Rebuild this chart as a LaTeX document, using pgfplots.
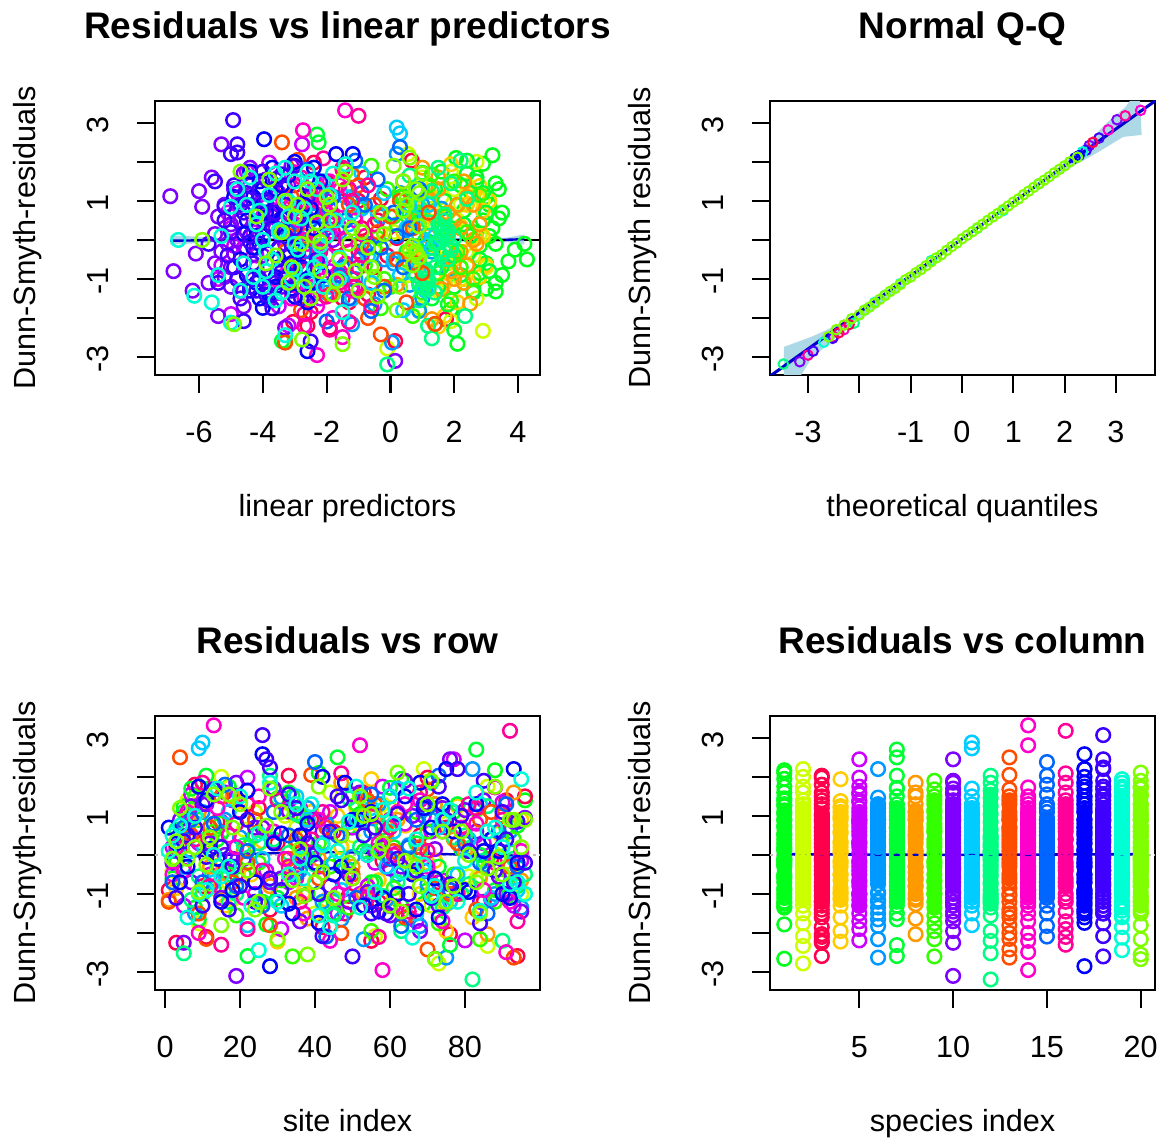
\documentclass[border=0pt]{standalone}
\usepackage{pgfplots}
\usepackage{pgfplotstable}
\usepackage{fontspec}
\setmainfont{Liberation Sans}
\pgfplotsset{compat=1.18}
\definecolor{c1}{HTML}{00FF19}\definecolor{c2}{HTML}{CCFF00}\definecolor{c3}{HTML}{FF004D}\definecolor{c4}{HTML}{FFCC00}
\definecolor{c5}{HTML}{CC00FF}\definecolor{c6}{HTML}{0099FF}\definecolor{c7}{HTML}{00FF33}\definecolor{c8}{HTML}{FF9900}
\definecolor{c9}{HTML}{33FF00}\definecolor{c10}{HTML}{8000FF}\definecolor{c11}{HTML}{00CCFF}\definecolor{c12}{HTML}{00FF80}
\definecolor{c13}{HTML}{FF4D00}\definecolor{c14}{HTML}{FF00CC}\definecolor{c15}{HTML}{0066FF}\definecolor{c16}{HTML}{FF0099}
\definecolor{c17}{HTML}{0000FF}\definecolor{c18}{HTML}{4000FF}\definecolor{c19}{HTML}{00FFD5}\definecolor{c20}{HTML}{80FF00}
\definecolor{ciband}{HTML}{ADD8E6}\definecolor{fitblue}{HTML}{0000CD}
\pgfplotstableread{
eta site r
3.2 88 2.17
2.06 41 2.1
2.9 63 1.95
1.6 17 1.75
3.3 30 1.45
2.5 5 1.25
3.4 72 1.3
1.2 52 1.05
3.1 24 0.9
2.3 94 0.75
2.9 58 0.5
0.9 11 0.4
3.2 35 0.3
1.8 79 0.15
4.2 47 -0.1
3.9 66 -0.25
1.5 3 -0.2
4.28 21 -0.5
3.7 84 -0.55
2.2 55 -0.7
2.8 13 -0.85
3.3 91 -1.1
1.4 38 -1.0
3.0 69 -1.25
2.6 8 -1.35
3.3 43 -1.32
1.9 27 -1.78
2.1 72 -2.66
2.7 33 1.6
3.0 77 1.1
2.1 9 0.9
3.5 49 0.7
2.6 61 0.2
3.3 86 -0.1
2.4 19 -0.3
3.0 2 -0.6
3.5 70 -0.9
2.0 45 -1.2
3.1 53 0.1
2.2 96 1.4
3.4 15 0.55
2.8 37 -0.15
}\tabA
\pgfplotstableread{
eta site r
0.55 69 2.2
2.7 15 2.0
1.9 86 1.75
1.0 44 1.6
2.4 6 1.4
0.3 60 1.2
2.9 32 1.0
1.3 75 0.8
-0.4 21 0.65
2.1 50 0.5
0.7 90 0.3
2.8 12 0.1
-0.2 37 -0.05
1.7 66 -0.2
2.6 2 -0.4
0.4 81 -0.55
3.0 28 -0.7
1.1 54 -0.85
2.2 95 -1.0
-0.6 18 -1.15
1.5 71 -1.3
2.7 40 -1.5
0.9 9 -1.75
1.9 56 -2.08
2.9 86 -2.33
-0.1 73 -2.78
1.6 24 1.1
0.8 35 0.7
2.2 78 0.9
0.1 47 0.2
1.2 63 -0.1
2.4 92 -0.3
0.6 14 -0.9
1.8 83 -0.6
1.0 5 0.4
2.0 58 1.3
}\tabB
\pgfplotstableread{
eta site r
0.67 33 2.03
-2.4 70 1.98
-1.5 8 1.8
-0.8 53 1.6
-3.0 91 1.4
-2.0 25 1.2
-0.3 62 1.05
-2.7 14 0.85
-1.1 45 0.6
-3.2 80 0.4
-1.8 4 0.2
0.2 36 0.05
-2.3 58 -0.15
-1.0 94 -0.3
-2.9 19 -0.5
-0.5 73 -0.7
-1.6 1 -0.9
-3.1 49 -1.05
-2.1 85 -1.2
-0.7 28 -1.4
-1.3 65 -1.6
-2.5 42 -1.85
1.74 76 -2.03
-3.05 11 -2.1
-1.9 3 -2.25
-2.6 55 -2.2
0.15 94 -2.59
-1.4 22 1.3
-2.2 39 0.9
-0.4 68 0.5
-1.7 87 -0.1
-2.6 10 -0.8
-1.2 57 -1.2
-0.9 30 0.3
-3.3 75 0.7
-1.5 48 -1.5
-0.1 16 -0.4
-2.0 96 1.5
-2.4 60 -1.3
-1.0 6 1.0
}\tabC
\pgfplotstableread{
eta site r
1.9 55 1.94
2.8 20 1.38
1.2 78 1.25
2.4 39 1.1
0.7 6 0.95
2.9 64 0.75
1.6 89 0.55
2.2 26 0.35
0.4 47 0.2
2.7 13 0.05
1.4 72 -0.15
2.5 34 -0.3
0.9 92 -0.5
3.0 57 -0.65
1.8 3 -0.85
2.3 68 -1.0
1.1 43 -1.15
2.6 16 -1.3
2.1 82 -1.6
1.7 75 -1.95
1.5 30 -2.22
2.6 51 1.2
1.3 9 0.6
2.9 85 0.1
2.0 23 -0.5
1.7 61 -1.1
2.4 95 0.9
2.8 37 -0.95
0.8 70 -0.2
1.9 11 0.3
3.1 46 1.0
}\tabD
\pgfplotstableread{
eta site r
-2.77 77 2.45
-3.8 22 1.98
-4.5 58 1.75
-2.4 7 1.55
-3.3 90 1.35
-4.8 36 1.2
-2.0 69 1.0
-3.9 15 0.85
-5.1 50 0.7
-2.9 83 0.5
-1.6 29 0.35
-4.3 2 0.2
-3.4 62 0.05
-4.9 95 -0.15
-2.5 41 -0.3
-3.7 12 -0.5
-5.3 74 -0.65
-1.9 54 -0.8
-4.1 24 -1.0
-3.0 87 -1.15
-4.7 5 -1.3
-2.2 46 -1.5
-3.5 67 -1.7
-5.0 31 -1.9
-3.2 80 -2.19
-4.4 18 1.4
-3.6 44 1.1
-4.0 71 0.6
-2.7 9 0.3
-4.6 56 -0.2
-3.2 33 -0.7
-5.0 85 0.3
-3.8 93 -1.3
-2.3 64 0.8
-4.2 27 -0.4
-3.1 38 0.9
-5.4 76 -1.0
-3.5 16 1.6
-2.6 52 -1.0
-4.8 60 0.9
}\tabE
\pgfplotstableread{
eta site r
0.2 82 2.2
-2.2 31 1.47
0.9 57 1.3
-1.2 10 1.1
-2.6 74 0.95
1.6 43 0.8
-0.3 92 0.6
-1.9 20 0.45
0.5 65 0.25
-2.9 3 0.1
1.2 50 -0.05
-0.8 85 -0.25
-2.3 36 -0.4
0.1 13 -0.6
1.8 70 -0.75
-1.5 27 -0.95
0.6 59 -1.15
-2.0 95 -1.35
1.0 8 -1.5
-0.5 47 -1.65
0.9 68 -1.82
-1.2 53 -2.16
0.05 75 -2.63
-0.9 16 0.9
0.3 38 1.2
-1.6 79 0.2
0.7 24 0.5
-0.2 62 -0.5
-1.1 88 -1.0
1.3 5 -0.3
0.0 42 -1.2
-2.4 55 0.6
1.0 71 0.9
}\tabF
\pgfplotstableread{
eta site r
-2.3 83 2.7
-2.25 46 2.5
2.4 11 2.03
1.0 60 1.72
2.7 34 1.5
1.4 78 1.3
0.3 5 1.1
2.1 52 0.9
3.0 91 0.7
0.8 24 0.5
1.9 67 0.3
2.5 40 0.1
1.2 2 -0.1
0.5 73 -0.3
2.8 17 -0.5
1.6 56 -0.7
2.2 88 -0.9
0.9 30 -1.1
2.6 63 -1.3
1.3 45 -1.5
1.8 9 -1.65
2.0 76 -2.31
-3.4 22 -2.59
1.7 36 1.0
2.9 70 1.2
2.3 14 0.4
1.1 84 0.0
2.0 49 -0.4
3.1 94 -0.8
0.6 58 0.7
1.5 26 -1.2
2.4 7 1.7
}\tabG
\pgfplotstableread{
eta site r
1.0 47 1.85
2.3 18 1.5
1.5 72 1.3
0.4 33 1.1
2.6 90 0.9
1.8 6 0.7
0.8 59 0.5
2.2 25 0.3
1.2 80 0.1
2.7 41 -0.1
0.6 12 -0.3
1.9 66 -0.45
2.4 95 -0.65
1.1 28 -0.8
2.0 53 -1.0
0.2 1 -1.15
1.6 75 -1.26
2.5 38 -1.63
1.3 86 -2.03
2.1 62 0.9
2.4 9 1.1
1.4 44 0.6
2.8 77 0.4
1.7 21 0.1
2.2 50 -0.3
0.9 84 -0.6
2.3 35 -1.1
1.5 93 1.6
1.9 15 -0.8
2.6 68 0.0
1.2 56 1.0
2.0 4 0.5
}\tabH
\pgfplotstableread{
eta site r
-0.6 64 1.9
1.3 29 1.68
2.0 8 1.5
-0.1 51 1.3
2.8 83 1.15
0.8 37 0.95
-1.0 15 0.8
1.7 70 0.6
0.2 93 0.4
2.4 22 0.2
-0.4 58 0.05
1.1 3 -0.15
2.1 44 -0.3
0.5 77 -0.5
-0.8 31 -0.65
1.5 61 -0.85
2.6 10 -1.0
0.0 88 -1.2
1.0 49 -1.35
1.9 19 -1.55
-0.3 73 -1.75
0.7 55 -1.95
1.4 84 -2.16
-3.3 34 -2.6
0.4 67 1.1
1.6 41 0.3
-0.5 25 -0.2
2.2 90 -0.7
0.9 6 0.7
1.2 53 1.4
-0.2 79 -1.0
0.1 13 0.6
}\tabI
\pgfplotstableread{
eta site r
-5.3 76 2.45
-4.4 19 1.85
-5.6 52 1.6
-3.2 85 1.4
-6.0 7 1.25
-6.9 33 1.12
-4.0 66 1.0
-5.9 93 0.85
-2.4 24 0.7
-4.7 47 0.5
-3.6 12 0.3
-5.5 72 0.15
-1.8 39 0.0
-4.2 2 -0.2
-6.1 60 -0.35
-3.0 89 -0.55
-5.0 28 -0.7
-6.8 44 -0.8
-3.8 78 -0.95
-5.7 15 -1.1
-6.2 55 -1.3
-2.7 95 -1.45
-4.6 36 -1.7
-5.4 68 -1.95
-3.3 5 -2.25
0.15 19 -3.1
-4.9 10 1.3
-5.2 40 0.9
-3.7 83 0.6
-4.5 58 0.2
-5.1 21 -0.1
-4.0 70 -0.4
-5.5 31 -0.6
-4.3 91 -1.0
-3.4 49 -1.2
-4.8 16 0.0
-5.3 63 -0.3
-4.1 26 0.7
-3.5 74 1.2
-5.0 87 0.4
-2.9 4 0.9
-5.2 54 -0.95
-4.6 29 1.7
-3.9 50 1.55
-4.4 80 1.15
-3.1 64 1.9
-4.9 35 -0.35
-3.6 96 0.95
-4.2 7 -0.7
-5.4 42 0.6
-3.3 18 -0.1
-4.7 73 -1.3
-3.8 60 -1.55
-2.6 11 1.3
-4.0 56 0.1
-5.0 84 -1.2
-3.5 37 0.5
}\tabJ
\pgfplotstableread{
eta site r
0.2 10 2.88
0.3 9 2.73
-0.9 62 1.7
-2.1 35 1.5
0.8 84 1.3
-1.4 17 1.1
1.2 51 0.9
-0.4 73 0.7
-1.8 4 0.5
0.5 42 0.3
1.4 92 0.1
-1.0 26 -0.1
-2.3 59 -0.3
0.1 78 -0.5
0.9 13 -0.7
-1.6 47 -0.9
-0.6 87 -1.1
1.1 31 -1.3
-1.2 67 -1.5
0.4 22 -1.8
-0.2 55 1.2
0.6 38 0.9
-1.3 81 0.4
0.9 7 0.1
-0.7 69 -0.4
0.3 94 -0.9
-0.9 19 0.8
1.3 45 -0.2
-1.9 76 -1.2
0.7 61 0.6
}\tabK
\pgfplotstableread{
eta site r
2.2 28 2.03
1.5 71 1.85
0.6 12 1.65
1.9 49 1.45
1.3 86 1.25
2.4 35 1.05
0.9 60 0.85
1.7 3 0.65
1.2 77 0.45
1.8 21 0.25
1.6 54 0.08
1.4 93 -0.1
1.9 40 -0.25
1.6 66 -0.4
1.3 9 -0.55
1.1 81 -0.75
0.8 31 -0.9
1.2 58 -1.05
1.0 17 -1.2
1.4 74 -1.35
0.9 45 -1.55
2.34 63 -1.95
1.18 90 -2.2
1.3 5 -2.52
-0.1 82 -3.19
1.7 25 0.3
1.8 68 0.1
1.5 38 -0.05
1.9 85 -0.15
1.7 14 -0.3
1.6 52 0.2
1.8 96 -0.5
1.5 29 0.4
1.1 72 -1.1
1.2 43 -1.25
0.9 7 -1.15
1.4 62 -0.7
1.7 80 0.5
2.0 33 0.05
1.1 19 -1.0
}\tabL
\pgfplotstableread{
eta site r
-3.4 4 2.5
-2.9 39 2.05
-1.2 70 1.68
0.4 15 1.5
-2.2 56 1.3
-3.1 87 1.1
-0.5 24 0.9
1.2 43 0.7
-1.7 7 0.5
0.7 78 0.3
-2.7 61 0.1
-0.9 33 -0.1
-3.3 92 -0.3
0.2 50 -0.5
-1.4 18 -0.7
1.0 72 -0.85
-2.4 37 -1.05
-0.2 1 -1.2
-1.9 83 -1.4
0.5 64 -1.6
-2.8 28 -1.8
-0.7 47 -2.0
1.4 11 -2.15
-0.3 70 -2.42
-3.3 93 -2.63
-1.0 54 1.4
0.3 90 1.0
-2.0 12 0.7
-0.4 68 0.2
-2.3 22 -0.2
0.8 41 -0.6
-1.6 76 -1.0
-0.8 9 -1.5
0.0 59 0.6
-3.0 35 0.4
-1.3 84 0.9
}\tabM
\pgfplotstableread{
eta site r
-1.42 13 3.32
-2.74 52 2.81
-3.0 88 1.73
-1.9 25 1.5
-2.4 64 1.3
-3.4 6 1.1
-1.5 41 0.9
-2.8 79 0.7
-1.1 17 0.5
-3.2 57 0.3
-2.0 95 0.1
-2.6 32 -0.1
-1.3 70 -0.3
-3.5 2 -0.5
-2.2 48 -0.7
-1.7 85 -0.9
-2.9 21 -1.1
-1.2 61 -1.3
-3.1 37 -1.5
-2.3 74 -1.7
-1.8 9 -2.0
-2.7 44 -2.2
-1.5 91 -2.49
-2.3 58 -2.95
-2.5 14 1.2
-1.6 68 1.4
-3.0 29 0.6
-2.1 83 0.8
-2.7 54 0.0
-1.4 35 -0.6
-3.3 76 -0.9
-1.9 19 0.2
-2.4 92 -1.2
-2.0 5 -0.4
-1.8 62 1.1
-3.6 46 -1.0
}\tabN
\pgfplotstableread{
eta site r
0.3 40 2.38
-1.1 73 2.03
-2.6 16 1.8
-0.4 55 1.55
0.9 91 1.3
-1.8 29 1.1
-2.9 67 0.9
0.1 5 0.7
-1.4 46 0.5
0.6 80 0.3
-2.2 22 0.1
-0.7 60 -0.1
-2.7 94 -0.3
-1.0 35 -0.5
0.4 10 -0.7
-1.6 76 -0.9
-2.4 51 -1.1
-0.2 26 -1.3
-1.3 86 -1.5
-0.6 63 -1.82
-2.0 43 -2.09
-1.9 13 0.8
-0.9 70 1.2
-2.5 33 0.5
-0.3 84 -0.2
-1.5 2 -0.7
0.2 57 0.1
-3.0 19 -0.8
-2.1 89 0.6
-1.2 41 -1.0
-0.8 7 0.9
-3.2 65 0.2
}\tabO
\pgfplotstableread{
eta site r
-1.0 92 3.18
-2.1 47 2.09
-1.5 10 1.85
-2.8 68 1.6
-0.7 30 1.4
-2.3 83 1.2
-1.2 55 1.0
-3.0 19 0.8
-1.8 74 0.6
-0.5 39 0.4
-2.6 3 0.2
-1.4 61 0.0
-2.2 88 -0.2
-0.9 26 -0.4
-2.9 50 -0.6
-1.6 12 -0.8
-2.4 78 -1.0
-1.1 36 -1.2
-2.0 65 -1.45
-0.6 94 -1.7
-2.7 22 -1.9
-1.3 57 -2.1
-1.9 15 -2.3
-2.5 42 1.1
-1.3 81 1.3
-1.9 8 0.4
-0.8 70 0.1
-2.2 33 -0.3
-1.6 54 -1.1
-2.8 90 0.9
-1.0 24 -0.7
-2.4 60 0.7
}\tabP
\pgfplotstableread{
eta site r
-3.96 26 2.58
-1.18 93 2.2
-1.7 75 2.2
-3.0 42 2.0
-4.4 9 1.75
-2.2 60 1.5
-3.6 83 1.3
-4.9 20 1.1
-2.7 52 0.9
-3.9 71 0.7
-4.5 36 0.5
-2.4 3 0.3
-3.3 89 0.1
-4.1 14 -0.1
-2.9 47 -0.3
-4.7 66 -0.5
-3.5 24 -0.7
-2.1 80 -0.9
-4.2 58 -1.1
-3.1 33 -1.25
-3.8 67 -1.4
-2.6 73 -1.6
-4.0 41 -1.74
-2.6 28 -2.85
-3.4 11 1.4
-4.3 55 1.1
-2.8 77 0.6
-3.7 29 0.3
-3.0 94 -0.2
-4.5 18 -0.9
-3.3 62 -1.0
-3.9 6 -0.3
-2.5 38 0.8
-4.2 85 0.1
-3.5 45 -0.5
-2.9 69 1.2
-4.0 50 0.9
-3.6 15 -1.2
-4.8 90 -1.0
-3.1 72 -0.6
-3.7 1 0.7
-4.1 34 -1.5
-3.2 22 1.65
-4.1 64 1.5
-2.4 48 1.85
-3.8 87 0.4
-4.6 12 0.15
-3.0 57 -1.45
-3.6 81 -0.95
-4.3 40 -0.2
-2.8 4 -0.7
-4.0 74 1.3
-3.4 31 0.55
-2.5 92 -1.1
-4.4 53 -1.3
-3.7 68 1.85
}\tabQ
\pgfplotstableread{
eta site r
-4.93 26 3.07
-4.8 27 2.45
-4.8 28 2.24
-5.0 78 2.2
-3.4 13 1.68
-5.5 46 1.5
-4.1 69 1.3
-2.6 90 1.1
-4.7 22 0.9
-3.6 56 0.7
-5.2 6 0.5
-3.0 38 0.3
-4.4 81 0.1
-5.7 62 -0.1
-3.9 18 -0.3
-2.3 49 -0.5
-4.9 93 -0.7
-3.2 31 -0.9
-5.4 71 -1.1
-4.2 10 -1.3
-2.8 59 -1.5
-3.7 84 -1.75
-4.6 42 -2.08
-2.5 50 -2.6
-4.5 35 1.2
-3.3 75 0.9
-5.0 15 0.2
-4.0 53 0.5
-3.5 96 -0.2
-4.3 28 -0.6
-4.8 65 -1.0
-3.6 3 -1.1
-2.9 44 0.6
-5.1 88 -0.4
-3.9 79 1.0
-4.4 24 -1.2
-3.1 60 -1.3
-4.6 8 0.7
-3.8 37 0.0
-4.2 91 0.4
-3.4 20 -0.8
-4.7 55 -1.5
-4.0 73 1.75
-3.6 33 1.55
-3.0 85 1.9
-4.9 47 1.4
-4.4 11 -0.05
-3.2 67 -0.4
-5.2 94 0.85
-4.1 41 -1.0
-3.7 5 0.35
-2.7 76 -0.75
-4.5 62 1.05
-3.9 17 -1.4
}\tabR
\pgfplotstableread{
eta site r
-1.4 95 1.94
-3.6 14 1.7
-2.5 60 1.5
-4.8 35 1.3
-1.9 76 1.15
-3.2 8 1.0
-5.0 49 0.85
-1.2 88 0.7
-2.8 25 0.55
-4.2 67 0.4
-3.5 42 0.25
-5.3 1 0.1
-6.65 54 0.0
-2.2 80 -0.15
-3.9 17 -0.3
-1.6 63 -0.45
-4.6 37 -0.6
-3.0 92 -0.75
-5.4 11 -0.9
-2.6 71 -1.05
-4.0 30 -1.2
-3.4 52 -1.35
-6.15 84 -1.43
-5.6 6 -1.6
-1.5 44 -1.85
-5.0 66 -2.12
-3.3 25 -2.44
-3.0 20 1.5
-3.8 58 1.15
-2.3 39 1.3
-4.5 74 0.9
-1.7 2 0.5
-3.2 86 0.6
-2.0 46 0.1
-4.0 13 0.0
-2.9 69 -0.25
-3.7 33 -0.5
-2.4 94 -0.7
-4.3 56 -0.95
-3.1 9 -1.0
-2.1 78 -1.2
-3.6 41 -1.55
-4.7 23 -1.3
-2.7 61 0.8
-3.5 90 0.2
-4.1 4 0.75
-3.3 28 1.85
-2.6 51 1.75
-4.4 83 1.6
-1.8 65 1.7
-3.0 36 -0.1
-2.2 15 -0.55
-3.9 72 -0.8
-1.6 96 -1.0
}\tabS
\pgfplotstableread{
eta site r
0.6 62 2.11
-4.7 88 1.75
-3.8 17 1.55
-1.4 41 1.75
-2.6 70 1.3
0.9 4 1.2
-3.3 53 1.0
-1.9 93 0.9
0.4 27 0.75
-4.2 74 0.6
-2.3 12 0.45
-1.2 58 0.3
-0.2 36 0.15
-5.9 81 0.0
-2.8 2 -0.1
-0.7 49 -0.2
0.8 67 -0.3
-3.6 22 -0.4
-1.6 90 -0.5
0.7 34 -0.65
-2.2 77 -0.8
-0.5 9 -0.95
-3.2 45 -1.1
-1.0 60 -1.3
-2.5 84 -1.5
0.2 15 -1.8
-4.9 30 -2.16
-2.77 38 -2.55
-1.5 72 -2.67
0.8 20 1.3
0.5 55 1.05
-3.0 79 0.6
-2.0 31 1.1
-1.3 6 -0.1
0.9 42 -0.45
0.7 64 -0.15
0.8 86 -0.35
0.6 11 -0.25
-0.9 95 0.2
-3.9 50 -0.6
-2.7 25 -1.2
-1.1 68 -0.8
-0.3 18 0.7
-2.4 57 0.1
-1.7 37 -1.05
0.3 75 -1.2
-3.4 8 0.2
-1.9 47 0.5
-0.6 83 -0.7
-2.9 92 0.9
1.0 28 1.7
0.4 52 1.5
-1.5 13 1.55
0.1 71 1.9
-2.2 89 -0.05
-3.1 40 -0.7
0.9 3 0.35
-0.4 63 -1.45
-1.8 24 -1.4
0.5 96 0.9
}\tabT
\pgfplotsset{
  rg/.style={only marks,mark=o,mark size=6.8pt,line width=2.5pt},
  rpanel/.style={
    scale only axis,width=385pt,height=274pt,
    anchor=south west,
    tick align=outside,xtick pos=bottom,ytick pos=left,
    major tick length=18pt,
    axis line style={line width=2.2pt,black},
    tick style={line width=2.2pt,black},
    ymin=-3.46,ymax=3.56,
    ytick={-3,-2,-1,0,1,2,3},
    yticklabels={-3,,-1,,1,,3},
    minor tick num=0,
    tick label style={font=\fontsize{30.6}{32}\selectfont},
    xticklabel style={yshift=-25pt},
    yticklabel style={rotate=90,anchor=south,yshift=25pt,xshift=-2pt},
    label style={font=\fontsize{30.6}{32}\selectfont},
    title style={font=\fontsize{37}{39}\selectfont\bfseries,at={(axis description cs:0.5,1.207)},anchor=base,yshift=0pt},
    xlabel style={at={(axis description cs:0.5,-0.516)},anchor=base},
    ylabel style={at={(axis description cs:-0.31,0.5)},anchor=base},
    clip=true,
  },
}
\newcommand{\cloud}[1]{%
 \addplot[rg,c1] table[x=#1,y=r]{\tabA};
 \addplot[rg,c2] table[x=#1,y=r]{\tabB};
 \addplot[rg,c3] table[x=#1,y=r]{\tabC};
 \addplot[rg,c4] table[x=#1,y=r]{\tabD};
 \addplot[rg,c5] table[x=#1,y=r]{\tabE};
 \addplot[rg,c6] table[x=#1,y=r]{\tabF};
 \addplot[rg,c7] table[x=#1,y=r]{\tabG};
 \addplot[rg,c8] table[x=#1,y=r]{\tabH};
 \addplot[rg,c9] table[x=#1,y=r]{\tabI};
 \addplot[rg,c10] table[x=#1,y=r]{\tabJ};
 \addplot[rg,c11] table[x=#1,y=r]{\tabK};
 \addplot[rg,c12] table[x=#1,y=r]{\tabL};
 \addplot[rg,c13] table[x=#1,y=r]{\tabM};
 \addplot[rg,c14] table[x=#1,y=r]{\tabN};
 \addplot[rg,c15] table[x=#1,y=r]{\tabO};
 \addplot[rg,c16] table[x=#1,y=r]{\tabP};
 \addplot[rg,c17] table[x=#1,y=r]{\tabQ};
 \addplot[rg,c18] table[x=#1,y=r]{\tabR};
 \addplot[rg,c19] table[x=#1,y=r]{\tabS};
 \addplot[rg,c20] table[x=#1,y=r]{\tabT};
}
\newcommand{\col}[5]{%
 \addplot[#2,line width=15.5pt,line cap=round] coordinates {(#1,#4)(#1,#5)};
 \addplot[rg,#2] table[x expr=#1,y=r]{#3};
}
\begin{document}
\begin{tikzpicture}[x=1pt,y=1pt]
\path[use as bounding box] (0,0) rectangle (1163,1140);
% Panel 1
\begin{axis}[rpanel,at={(155pt,765pt)},xmin=-7.38,xmax=4.69,
  xtick={-6,-4,-2,0,2,4},xticklabels={-6,-4,-2,0,2,4},
  title={Residuals vs linear predictors},xlabel={linear predictors},ylabel={Dunn-Smyth-residuals}]
 \addplot[fill=ciband,draw=none] coordinates {(-6.9,-0.12)(-5,-0.04)(3.5,-0.04)(4.2,-0.12)(4.2,0.14)(3.5,0.04)(-5,0.04)(-6.9,0.12)} -- cycle;
 \addplot[fitblue,line width=2.4pt] coordinates {(-6.9,-0.02)(-5,0)(3.5,0)(4.2,0.02)};
 \addplot[black,line width=2.4pt] coordinates {(-5.6,0)(3.6,0)};
 \addplot[black,line width=2.4pt] coordinates {(4.2,0)(4.69,0)};
 \cloud{eta}
\end{axis}
% Panel 2
\begin{axis}[rpanel,at={(770pt,765pt)},xmin=-3.74,xmax=3.76,
  xtick={-3,-2,-1,0,1,2,3},xticklabels={-3,,-1,0,1,2,3},
  title={Normal Q-Q},xlabel={theoretical quantiles},ylabel={Dunn-Smyth residuals}]
 \addplot[fill=ciband,draw=none] coordinates {(-3.47,-2.74)(-2.93,-2.48)(-2.34,-2.13)(-1.56,-1.42)(0,0)(1.5,1.46)(2.36,2.38)(2.82,3.0)(3.18,3.4)(3.27,3.56)(3.47,3.56)(3.5,2.69)(3.14,2.64)(2.63,2.23)(1.5,1.4)(0,-0.02)(-1.56,-1.62)(-2.34,-2.38)(-2.93,-3.03)(-3.2,-3.6)(-3.47,-3.6)} -- cycle;
 \pgfplotsset{qq/.style={only marks,mark=o,mark size=4.8pt,line width=2pt}}
 \addplot[qq,c12] coordinates {(-3.48,-3.18)(-2.1,-2.13)(-1.9,-1.8)(-1.5,-1.42)(0.3,0.3)(1.5,1.44)};
 \addplot[qq,c10] coordinates {(-3.16,-3.12)(3.02,3.08)(2.48,2.42)};
 \addplot[qq,c16] coordinates {(-3.0,-2.95)(3.18,3.18)};
 \addplot[qq,c14] coordinates {(-2.5,-2.48)(-2.3,-2.3)(2.85,2.82)(3.48,3.32)};
 \addplot[qq,c18] coordinates {(-2.9,-2.85)(-2.52,-2.52)(2.67,2.61)(2.42,2.3)};
 \addplot[qq,c3] coordinates {(-2.4,-2.38)(-2.2,-2.17)(2.55,2.5)};
 \addplot[qq,c19] coordinates {(-2.69,-2.62)(2.35,2.26)(-1.7,-1.6)(-1.2,-1.12)(-0.6,-0.53)(0.8,0.75)};
 \addplot[qq,c17] coordinates {(2.2,2.1)(2.28,2.16)};
 \addplot[qq,c20] coordinates {(-2.6,-2.48)(-2.45,-2.3)(-2.3,-2.18)(-2.15,-2.02)(-2.0,-1.92)(-1.9,-1.8)(-1.8,-1.72)(-1.7,-1.62)(-1.6,-1.52)(-1.5,-1.42)(-1.4,-1.32)(-1.3,-1.24)(-1.2,-1.14)(-1.1,-1.02)(-1.0,-0.95)(-0.9,-0.84)(-0.8,-0.76)(-0.7,-0.66)(-0.6,-0.56)(-0.5,-0.46)(-0.4,-0.38)(-0.3,-0.27)(-0.2,-0.17)(-0.1,-0.08)(0,0.03)(0.1,0.12)(0.2,0.21)(0.3,0.31)(0.4,0.4)(0.5,0.5)(0.6,0.59)(0.7,0.68)(0.8,0.78)(0.9,0.87)(1.0,0.97)(1.1,1.05)(1.2,1.16)(1.3,1.25)(1.4,1.35)(1.5,1.44)(1.6,1.53)(1.7,1.62)(1.8,1.72)(1.9,1.81)(2.0,1.9)(2.1,2.0)(2.25,2.12)};
 \addplot[fitblue,line width=3pt] coordinates {(-3.74,-3.49)(3.76,3.56)};
\end{axis}
% Panel 3
\begin{axis}[rpanel,at={(155pt,150pt)},xmin=-2.67,xmax=100,
  xtick={0,20,40,60,80},xticklabels={0,20,40,60,80},
  title={Residuals vs row},xlabel={site index},ylabel={Dunn-Smyth-residuals}]
 \cloud{site}
 \addplot[gray!50,line width=2pt,dashed] coordinates {(-2.67,0)(100,0)};
 \addplot[fitblue,line width=2.4pt] coordinates {(1,-0.07)(15,0)(30,0.05)(45,0.07)(60,0.05)(75,0.02)(96,-0.02)};
\end{axis}
% Panel 4
\begin{axis}[rpanel,at={(770pt,150pt)},xmin=0.24,xmax=20.76,
  xtick={5,10,15,20},xticklabels={5,10,15,20},
  title={Residuals vs column},xlabel={species index},ylabel={Dunn-Smyth-residuals}]
 \col{1}{c1}{\tabA}{1.15}{-1.05}
 \col{2}{c2}{\tabB}{1.2}{-1.15}
 \col{3}{c3}{\tabC}{1.05}{-1.15}
 \col{4}{c4}{\tabD}{1.05}{-1.15}
 \col{5}{c5}{\tabE}{1.05}{-1.25}
 \col{6}{c6}{\tabF}{1.3}{-0.65}
 \col{7}{c7}{\tabG}{1.15}{-1.15}
 \col{8}{c8}{\tabH}{1.15}{-1.0}
 \col{9}{c9}{\tabI}{1.4}{-1.35}
 \col{10}{c10}{\tabJ}{1.05}{-0.8}
 \col{11}{c11}{\tabK}{1.15}{-1.05}
 \col{12}{c12}{\tabL}{1.55}{-1.2}
 \col{13}{c13}{\tabM}{1.35}{-0.55}
 \col{14}{c14}{\tabN}{1.05}{-1.05}
 \col{15}{c15}{\tabO}{0.95}{-1.05}
 \col{16}{c16}{\tabP}{1.25}{-0.75}
 \col{17}{c17}{\tabQ}{1.1}{-1.05}
 \col{18}{c18}{\tabR}{1.15}{-0.8}
 \col{19}{c19}{\tabS}{1.45}{-0.85}
 \col{20}{c20}{\tabT}{1.55}{-1.25}
 \addplot[gray!50,line width=2pt,dashed] coordinates {(0.24,0)(20.76,0)};
 \addplot[fitblue,line width=2.6pt] coordinates {(1,0.02)(5,0.01)(10,0)(15,0.01)(20,0.02)};
\end{axis}
\end{tikzpicture}
\end{document}
